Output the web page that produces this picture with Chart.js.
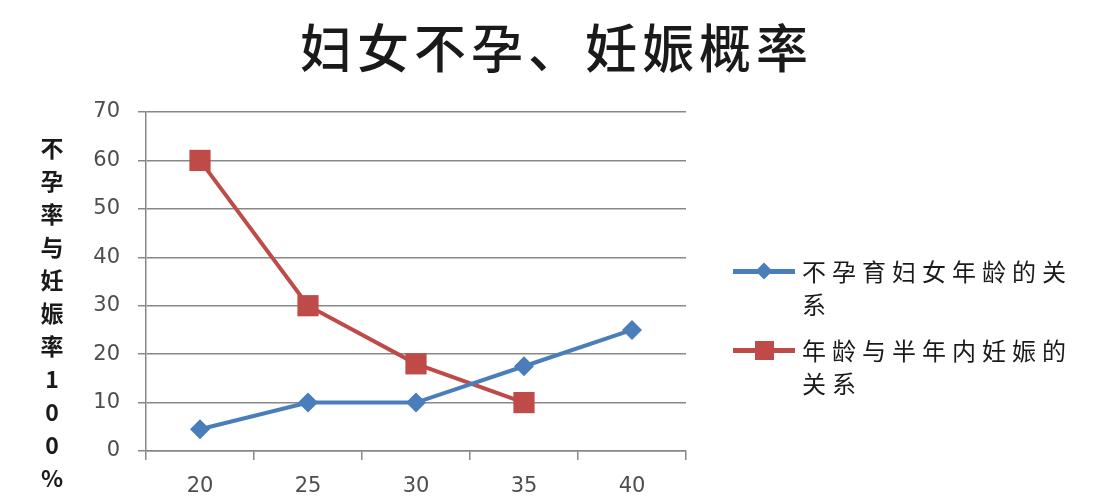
<!DOCTYPE html>
<html>
<head>
<meta charset="utf-8">
<script src="https://cdn.jsdelivr.net/npm/chart.js@4.4.1/dist/chart.umd.min.js"></script>
<style>
  html, body { margin: 0; padding: 0; background: #fff; }
  #wrap { position: relative; width: 1108px; height: 502px; }
  #title { position: absolute; left: 0; top: 14px; width: 1108px; padding-left: 5px; box-sizing: border-box; text-align: center;
           font-family: "Noto Sans CJK SC", sans-serif; font-size: 52px; font-weight: 500; letter-spacing: 5px; line-height: 64px; color: #1a1a1a; }
  #legend { position: absolute; left: 733px; top: 254px; font-family: "Noto Sans CJK SC", sans-serif; }
  .item { position: relative; margin-bottom: 13px; }
  .item .txt { margin-left: 69px; width: 285px; font-size: 24px; letter-spacing: 6px; line-height: 33px; color: #1a1a1a; }
  .item .ln { position: absolute; left: 0; top: 15px; width: 62px; height: 5px; }
  .item .mk { position: absolute; }
</style>
</head>
<body>
<div id="wrap">
  <canvas id="c" width="1108" height="502"></canvas>
  <div id="title">妇女不孕、妊娠概率</div>
  <div id="legend"></div>
</div>
<script>
// 数据
const ages = ['20', '25', '30', '35', '40'];
const infertility = [4.5, 10, 10, 17.5, 25];      // 不孕育妇女年龄的关系
const pregnancy = [60, 30, 18, 10, null];          // 年龄与半年内妊娠的关系
const seriesNames = ['不孕育妇女年龄的关系', '年龄与半年内妊娠的关系'];
const yTitle = ['不', '孕', '率', '与', '妊', '娠', '率', '1', '0', '0', '%'];

const BLUE = '#4a7ebb';
const RED = '#be4b48';

// 竖排的坐标轴标题
const stackedTitle = {
  id: 'stackedTitle',
  afterDraw(chart) {
    const ctx = chart.ctx;
    ctx.save();
    ctx.fillStyle = '#1a1a1a';
    ctx.font = 'bold 23px "Noto Sans CJK SC"';
    ctx.textAlign = 'center';
    ctx.textBaseline = 'middle';
    yTitle.forEach((ch, i) => ctx.fillText(ch, 52, 148 + i * 33));
    ctx.restore();
  }
};

new Chart(document.getElementById('c'), {
  type: 'line',
  data: {
    labels: ages,
    datasets: [
      { label: seriesNames[0], data: infertility, borderColor: BLUE, backgroundColor: BLUE, borderWidth: 4,
        pointStyle: 'rectRot', pointRadius: 10, pointBorderWidth: 0 },
      { label: seriesNames[1], data: pregnancy, borderColor: RED, backgroundColor: RED, borderWidth: 4,
        pointStyle: 'rect', pointRadius: 15, pointBorderWidth: 0 }
    ]
  },
  options: {
    responsive: false,
    animation: false,
    layout: { padding: { left: 0, right: 422, top: 112, bottom: 0 } },
    plugins: {
      legend: { display: false },
      tooltip: { enabled: false },
      title: { display: false }
    },
    scales: {
      x: {
        offset: true,
        grid: { offset: true, drawOnChartArea: false, color: '#888', tickLength: 9, lineWidth: 1.5 },
        border: { color: '#888', width: 1.5 },
        ticks: { color: '#4d4d4d', padding: 14, font: { family: '"DejaVu Sans"', size: 21 } },
        afterFit(s) { s.height = 51; }
      },
      y: {
        min: 0, max: 70,
        ticks: { stepSize: 10, color: '#4d4d4d', padding: 18, font: { family: '"DejaVu Sans"', size: 21 } },
        grid: { color: '#888', lineWidth: 1.5, tickLength: 8 },
        border: { color: '#888', width: 1.5 },
        afterFit(s) { s.width = 146; }
      }
    }
  },
  plugins: [stackedTitle]
});

// 图例（文字可换行）
const legend = document.getElementById('legend');
[[BLUE, 'diamond'], [RED, 'square']].forEach(([col, shape], i) => {
  const it = document.createElement('div');
  it.className = 'item';
  const ln = document.createElement('div');
  ln.className = 'ln';
  ln.style.background = col;
  const mk = document.createElement('div');
  mk.className = 'mk';
  mk.style.background = col;
  if (shape === 'diamond') {
    Object.assign(mk.style, { width: '12px', height: '12px', left: '25px', top: '11px', transform: 'rotate(45deg)' });
  } else {
    Object.assign(mk.style, { width: '19px', height: '19px', left: '22px', top: '8px' });
  }
  const tx = document.createElement('div');
  tx.className = 'txt';
  tx.textContent = seriesNames[i];
  it.append(ln, mk, tx);
  legend.appendChild(it);
});
</script>
</body>
</html>
